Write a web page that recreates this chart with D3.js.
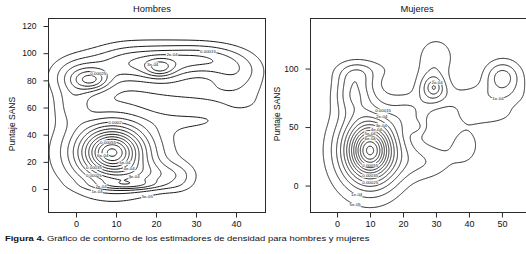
<!DOCTYPE html>
<html>
<head>
<meta charset="utf-8">
<script src="https://cdn.jsdelivr.net/npm/d3@7"></script>
<style>
  body { margin: 0; background: #fff; }
  svg text { font-family: "Liberation Sans", Arial, sans-serif; fill: #111; }
  .contour { fill: none; stroke: #1a1a1a; stroke-width: 1; }
  .frame { fill: none; stroke: #2a2a2a; stroke-width: 1; }
  .tick line { stroke: #2a2a2a; }
  .tick text { font-size: 8.5px; fill: #111; }
  .lev { font-size: 4.4px; }
</style>
</head>
<body>
<svg id="chart" width="526" height="254"></svg>
<script>

// Hombres: density bumps (centre, spread, weight)
const menBumpX  = [9, 9, 9, 19, 26, 13, 1, 12, 22, 32, 40, 4, 21, -1, 30, 42, 32]
const menBumpY  = [27, 27, 27, 10, 8, 3, 83, 93, 92, 96, 86, 80, 89, 62, 50, 62, 72]
const menBumpSx = [3.7, 6.3, 8.9, 6, 3, 6, 5, 6, 6, 6, 5, 3, 2.5, 3, 8, 5, 9]
const menBumpSy = [8.4, 14.4, 20.4, 7, 8, 2.5, 10, 10, 10, 8, 10, 5, 4.5, 10, 6, 6, 6]
const menBumpW  = [0.032, 0.19, 0.19, 0.032, 0.0075, 0.0094, 0.053, 0.053, 0.06, 0.045, 0.038, 0.014, 0.0085, 0.017, 0.015, 0.0075, 0.02]
const menLevels = [5e-5, 1e-4, 1.5e-4, 2e-4, 2.5e-4, 3e-4, 3.5e-4, 4e-4, 4.5e-4, 5e-4, 5.5e-4, 6e-4, 6.5e-4]
const menXTicks = [0, 10, 20, 30, 40]
const menYTicks = [0, 20, 40, 60, 80, 100, 120]
const menLabelText = ["0.00015", "2e-04", "3e-04", "0.00025", "0.0002", "0.00055", "6e-04", "5e-04", "4e-04", "0.00035", "3e-04", "0.00025", "2e-04", "1e-04", "5e-05"]
const menLabelLevel = [1.5e-4, 2e-4, 3e-4, 2.5e-4, 2e-4, 5.5e-4, 6e-4, 5e-4, 4e-4, 3.5e-4, 3e-4, 2.5e-4, 2e-4, 1e-4, 5e-05]
const menLabelX = [33, 24, 18, 6, 10, 7.7, 7.5, 13.5, 14, 3.5, 15, 3.5, 6, 5, 18]
const menLabelY = [103, 99, 96, 87, 59.5, 38, 26, 15, 12, 12, 5, 5, -1.5, -7, -7]

// Mujeres
const womenBumpX  = [10, 10, 10, 5, 6, 29, 29.5, 30, 22, 50, 51, 42, 10, 24, 27, 39, 45]
const womenBumpY  = [30, 30, 30, 80, 95, 84, 84, 110, 62, 93, 90, 75, 100, 50, 20, 35, 60]
const womenBumpSx = [3.3, 5.6, 7.9, 4, 4, 3, 1.2, 4, 4, 3.5, 5, 10, 8, 2, 6, 3.5, 6]
const womenBumpSy = [11.2, 19.2, 27.2, 13, 7, 9, 4, 12, 10, 9, 14, 8, 7, 4, 11, 13, 6]
const womenBumpW  = [0.041, 0.243, 0.243, 0.055, 0.0106, 0.0305, 0.0015, 0.027, 0.02, 0.0237, 0.026, 0.035, 0.014, 0.0025, 0.033, 0.02, 0.0158]
const womenLevels = [5e-5, 1e-4, 1.5e-4, 2e-4, 2.5e-4, 3e-4, 3.5e-4, 4e-4, 4.5e-4, 5e-4, 5.5e-4, 6e-4, 6.5e-4, 7e-4]
const womenXTicks = [0, 10, 20, 30, 40, 50]
const womenYTicks = [0, 50, 100]
const womenLabelText = ["0.00015", "2e-04", "3e-04", "4e-04", "5e-04", "6e-04", "0.00055", "0.00035", "0.00025", "1e-04", "5e-05", "2e-04", "1e-04"]
const womenLabelLevel = [1.5e-4, 2e-4, 3e-4, 4e-4, 5e-4, 6e-4, 5.5e-4, 3.5e-4, 2.5e-4, 1e-4, 5e-5, 2e-4, 1e-4]
const womenLabelX = [14.5, 14, 14, 11, 10, 10, 10, 10, 10, 5.8, 5.8, 30, 48.8]
const womenLabelY = [67, 62, 54, 50, 40.7, 35, 16, 7.6, 1.7, -9, -14, 87, 82]

const svg = d3.select("#chart")

const panels = [
  {
    id: "men", title: "Hombres", titleX: 152,
    left: 48, right: 265, top: 18, bottom: 212,
    xDomain: [-7, 47.25], yDomain: [-16.9, 125.9],
    bumps: [menBumpX, menBumpY, menBumpSx, menBumpSy, menBumpW],
    levels: menLevels, xTicks: menXTicks, yTicks: menYTicks,
    labels: [menLabelText, menLabelLevel, menLabelX, menLabelY],
    yLabelX: 15, yLabelY: 124,
  },
  {
    id: "women", title: "Mujeres", titleX: 417,
    left: 310, right: 527, top: 18, bottom: 212,
    xDomain: [-8.2, 57.6], yDomain: [-22.6, 143.2],
    bumps: [womenBumpX, womenBumpY, womenBumpSx, womenBumpSy, womenBumpW],
    levels: womenLevels, xTicks: womenXTicks, yTicks: womenYTicks,
    labels: [womenLabelText, womenLabelLevel, womenLabelX, womenLabelY],
    yLabelX: 280, yLabelY: 114,
  },
]

function densityGrid(bumps, xd, yd, step) {
  const [bx, by, bsx, bsy, bw] = bumps
  const x0 = xd[0] - 10, y0 = yd[0] - 10
  const nx = Math.ceil((xd[1] - xd[0] + 20) / step) + 1
  const ny = Math.ceil((yd[1] - yd[0] + 20) / step) + 1
  const values = new Float64Array(nx * ny)
  for (let j = 0; j < ny; j++) {
    const y = y0 + j * step
    for (let i = 0; i < nx; i++) {
      const x = x0 + i * step
      let v = 0
      for (let k = 0; k < bx.length; k++) {
        const dx = (x - bx[k]) / bsx[k], dy = (y - by[k]) / bsy[k]
        v += bw[k] / (2 * Math.PI * bsx[k] * bsy[k]) * Math.exp(-0.5 * (dx * dx + dy * dy))
      }
      values[i + j * nx] = v
    }
  }
  return { nx, ny, x0, y0, values }
}

panels.forEach(p => {
  const x = d3.scaleLinear().domain(p.xDomain).range([p.left, p.right])
  const y = d3.scaleLinear().domain(p.yDomain).range([p.bottom, p.top])

  const step = 0.25
  const grid = densityGrid(p.bumps, p.xDomain, p.yDomain, step)
  const contours = d3.contours()
    .size([grid.nx, grid.ny])
    .thresholds(p.levels)(grid.values)

  const toPx = (cx, cy) => [x(grid.x0 + (cx - 0.5) * step), y(grid.y0 + (cy - 0.5) * step)]
  const path = d3.geoPath(d3.geoTransform({
    point(cx, cy) { const [px, py] = toPx(cx, cy); this.stream.point(px, py) }
  }))

  svg.append("clipPath").attr("id", "clip-" + p.id)
    .append("rect")
      .attr("x", p.left).attr("y", p.top)
      .attr("width", p.right - p.left).attr("height", p.bottom - p.top)

  const g = svg.append("g").attr("clip-path", `url(#clip-${p.id})`)
  g.selectAll("path")
    .data(contours)
    .join("path")
      .attr("class", "contour")
      .attr("d", path)

  // contour labels: nearest free spot on their line to the point
  const [lt, ll, lx, ly] = p.labels
  const placed = []
  lt.forEach((txt, i) => {
    const c = contours.find(d => Math.abs(d.value - ll[i]) < 1e-9)
    if (!c) return
    const ax = x(lx[i]), ay = y(ly[i])
    const t = g.append("text")
      .attr("class", "lev")
      .attr("text-anchor", "middle")
      .text(txt)
    const w = t.node().getComputedTextLength() + 1, h = 4
    const cands = []
    c.coordinates.forEach(poly => poly.forEach(ring => ring.forEach(([cx, cy]) => {
      const [px, py] = toPx(cx, cy)
      cands.push([px, py, (px - ax) ** 2 + (py - ay) ** 2])
    })))
    cands.sort((a, b) => a[2] - b[2])
    const spot = cands.find(([px, py, dd]) => dd < 600 && placed.every(b =>
      Math.abs(px - b[0]) > (w + b[2]) / 2 || Math.abs(py - b[1]) > h))
    if (!spot) { t.remove(); return }
    placed.push([spot[0], spot[1], w])
    t.attr("x", spot[0]).attr("y", spot[1] + 1.5)
    g.insert("rect", () => t.node())
      .attr("x", spot[0] - w / 2).attr("y", spot[1] - 2)
      .attr("width", w).attr("height", h)
      .attr("fill", "#fff")
  })

  svg.append("rect")
    .attr("class", "frame")
    .attr("x", p.left + 0.5).attr("y", p.top + 0.5)
    .attr("width", p.right - p.left).attr("height", p.bottom - p.top)

  const xAxis = svg.append("g")
    .attr("transform", `translate(0,${p.bottom + 0.5})`)
    .call(d3.axisBottom(x).tickValues(p.xTicks).tickSize(5).tickPadding(3))
  xAxis.select(".domain").remove()
  xAxis.selectAll(".tick text").style("font-size", "9px")

  const yAxis = svg.append("g")
    .attr("transform", `translate(${p.left + 0.5},0)`)
    .call(d3.axisLeft(y).tickValues(p.yTicks).tickSize(5).tickPadding(7))
  yAxis.select(".domain").remove()

  svg.append("text")
    .attr("transform", `translate(${p.titleX},12) scale(1.1,1)`)
    .attr("text-anchor", "middle")
    .style("font-size", "8.5px")
    .text(p.title)

  svg.append("text")
    .attr("transform", `translate(${p.yLabelX},${p.yLabelY}) rotate(-90)`)
    .attr("text-anchor", "middle")
    .style("font-size", "8.5px")
    .text("Puntaje SANS")
})

const caption = svg.append("text")
  .attr("transform", "translate(5,241) scale(1.18,1)")
  .style("font-size", "8px")
caption.append("tspan").style("font-weight", "bold").text("Figura 4.")
caption.append("tspan").text(" Gráfico de contorno de los estimadores de densidad para hombres y mujeres")

</script>
</body>
</html>
